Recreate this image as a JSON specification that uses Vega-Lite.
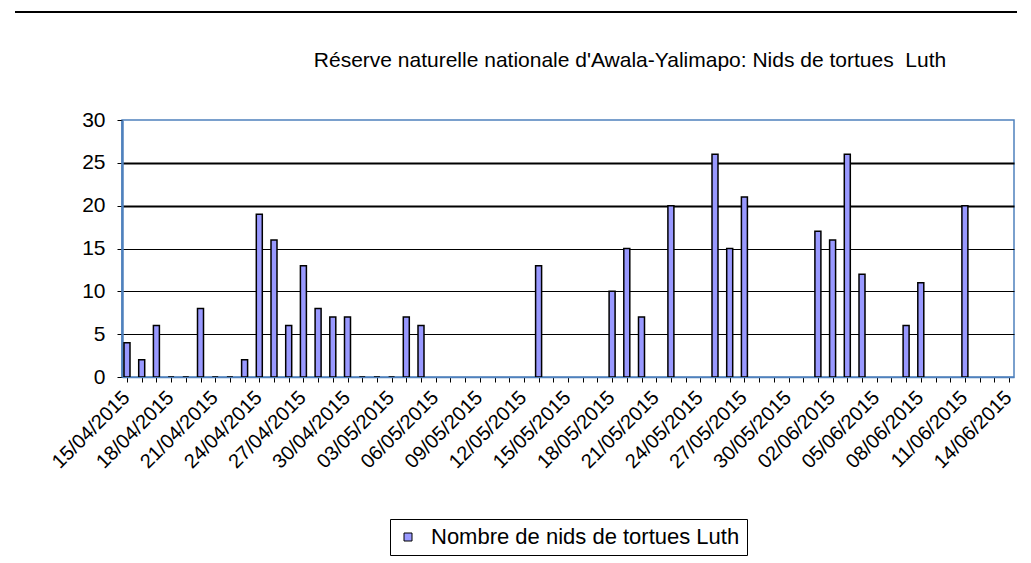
{
  "$schema": "https://vega.github.io/schema/vega-lite/v6.json",
  "width": 892,
  "height": 257,
  "autosize": "none",
  "padding": {"left": 122, "top": 120, "right": 17, "bottom": 186},
  "background": "white",
  "config": {
    "font": "Liberation Sans",
    "view": {"stroke": "#4F81BD", "strokeWidth": 1.5}
  },
  "title": {
    "text": "Réserve naturelle nationale d'Awala-Yalimapo: Nids de tortues \u00a0Luth",
    "font": "Liberation Sans",
    "fontSize": 21,
    "fontWeight": "normal",
    "color": "black",
    "anchor": "middle",
    "frame": "group",
    "dx": 62,
    "offset": -60
  },
  "data": {
    "values": [
      {"date": "2015-04-15", "nids": 4},
      {"date": "2015-04-16", "nids": 2},
      {"date": "2015-04-17", "nids": 6},
      {"date": "2015-04-18", "nids": 0},
      {"date": "2015-04-19", "nids": 0},
      {"date": "2015-04-20", "nids": 8},
      {"date": "2015-04-21", "nids": 0},
      {"date": "2015-04-22", "nids": 0},
      {"date": "2015-04-23", "nids": 2},
      {"date": "2015-04-24", "nids": 19},
      {"date": "2015-04-25", "nids": 16},
      {"date": "2015-04-26", "nids": 6},
      {"date": "2015-04-27", "nids": 13},
      {"date": "2015-04-28", "nids": 8},
      {"date": "2015-04-29", "nids": 7},
      {"date": "2015-04-30", "nids": 7},
      {"date": "2015-05-01", "nids": 0},
      {"date": "2015-05-02", "nids": 0},
      {"date": "2015-05-03", "nids": 0},
      {"date": "2015-05-04", "nids": 7},
      {"date": "2015-05-05", "nids": 6},
      {"date": "2015-05-13", "nids": 13},
      {"date": "2015-05-18", "nids": 10},
      {"date": "2015-05-19", "nids": 15},
      {"date": "2015-05-20", "nids": 7},
      {"date": "2015-05-22", "nids": 20},
      {"date": "2015-05-25", "nids": 26},
      {"date": "2015-05-26", "nids": 15},
      {"date": "2015-05-27", "nids": 21},
      {"date": "2015-06-01", "nids": 17},
      {"date": "2015-06-02", "nids": 16},
      {"date": "2015-06-03", "nids": 26},
      {"date": "2015-06-04", "nids": 12},
      {"date": "2015-06-07", "nids": 6},
      {"date": "2015-06-08", "nids": 11},
      {"date": "2015-06-11", "nids": 20}
    ]
  },
  "layer": [
    {
      "mark": {"type": "bar", "size": 6, "stroke": "black", "strokeWidth": 1.5, "clip": true},
      "encoding": {
        "x": {
          "field": "date",
          "type": "temporal",
          "scale": {"type": "utc", "domain": ["2015-04-15", "2015-06-14"]},
          "axis": {
            "title": null,
            "tickCount": {"interval": "day", "step": 1},
            "labelExpr": "(round((datum.value - utc(2015,3,15))/86400000) % 3) == 0 ? utcFormat(datum.value, '%d/%m/%Y') : ''",
            "labelAngle": -45,
            "labelFontSize": 20,
            "labelColor": "black",
            "labelOverlap": false,
            "labelFlush": false,
            "labelBound": false,
            "labelPadding": 5,
            "labelOffset": -8,
            "domainColor": "#4F81BD",
            "domainWidth": 1.5,
            "tickColor": "black",
            "tickSize": 5,
            "tickWidth": 1,
            "grid": false
          }
        },
        "y": {
          "field": "nids",
          "type": "quantitative",
          "scale": {"domain": [0, 30], "nice": false},
          "axis": {
            "title": null,
            "values": [0, 5, 10, 15, 20, 25, 30],
            "labelFontSize": 21,
            "labelColor": "black",
            "labelPadding": 12,
            "domainColor": "#4F81BD",
            "domainWidth": 2.5,
            "tickColor": "black",
            "tickSize": 5,
            "grid": true,
            "gridColor": "black",
            "gridOpacity": {"condition": {"test": "datum.value == 0 || datum.value == 30", "value": 0}, "value": 1},
            "gridWidth": {"condition": {"test": "datum.value >= 20", "value": 2}, "value": 1}
          }
        },
        "color": {
          "datum": "Nombre de nids de tortues Luth",
          "type": "nominal",
          "scale": {"range": ["#9999FF"]},
          "legend": {
            "title": null,
            "orient": "none",
            "legendX": 268,
            "legendY": 399,
            "strokeColor": "black",
            "padding": 7,
            "symbolType": "square",
            "symbolSize": 64,
            "symbolStrokeColor": "black",
            "symbolStrokeWidth": 1,
            "labelFontSize": 22,
            "labelColor": "black",
            "labelOffset": 12,
            "labelLimit": 400
          }
        }
      }
    },
    {
      "mark": {"type": "rule", "color": "black", "strokeWidth": 1.5},
      "encoding": {
        "x": {"datum": {"year": 2015, "month": 4, "date": 7, "hours": 9, "minutes": 36, "utc": true}, "type": "temporal"},
        "x2": {"datum": {"year": 2015, "month": 6, "date": 14, "hours": 13, "utc": true}},
        "y": {"datum": 42.6, "type": "quantitative"}
      }
    }
  ]
}
